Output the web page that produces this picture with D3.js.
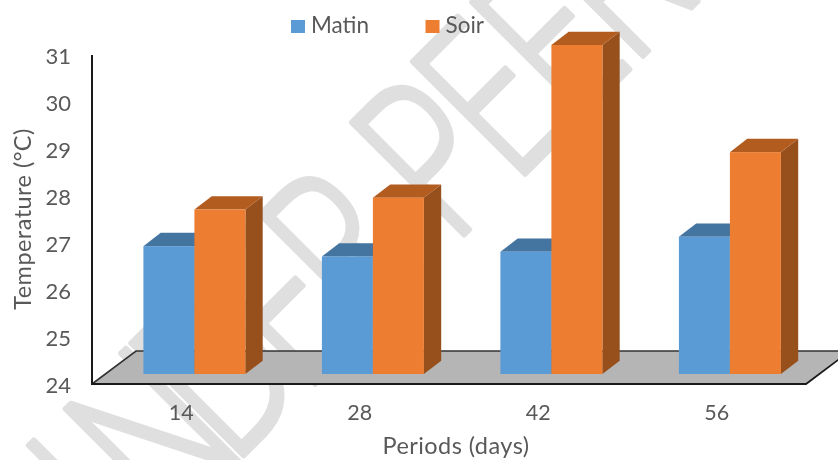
<!DOCTYPE html>
<html><head><meta charset="utf-8">
<script src="https://cdn.jsdelivr.net/npm/d3@7"></script>
<style>html,body{margin:0;padding:0;background:#fff}svg{display:block;filter:blur(0.4px)}
text{font-family:Lato,"Open Sans",sans-serif}</style></head><body>
<svg id="c" width="838" height="460"></svg>
<script>
const categories = ["14","28","42","56"];
const seriesNames = ["Matin","Soir"];
const matin = [26.72,26.5,26.6,26.92];
const soir  = [27.5,27.75,31,28.72];
const yTicks = [24,25,26,27,28,29,30,31];
const watermarkLetters = ["U","N","D","E","R","P","E","E","R"];
const watermarkOffsets = [-391,-260,-167,-66,15,145,231,315,398];

const svg = d3.select("#c");
const ink = "#595959";
const faces = {Matin:{front:"#5B9BD5",top:"#4474A0",side:"#3A6690"},
               Soir:{front:"#ED7D31",top:"#B35C20",side:"#97501C"}};
const depth = {floorX:44,floorY:33,barX:17.3,barY:13.3,wallGap:10};

// watermark, behind the chart
const wm = svg.append("g");
wm.selectAll("text").data(watermarkLetters).join("text")
  .attr("transform",(d,i)=>`rotate(-45) translate(${watermarkOffsets[i]},494) scale(0.75,1)`)
  .attr("font-size",222).style("font-family","'Open Sans'").attr("font-weight",300)
  .attr("fill","#dfdfdf").attr("stroke","#dfdfdf").attr("stroke-width",6)
  .attr("stroke-linejoin","round")
  .text(d=>d);

const x0 = d3.scaleBand().domain(categories).range([92,806]);
const x1 = d3.scaleBand().domain(seriesNames).range([0,102]);
const y = d3.scaleLinear().domain([24,31]).range([384,55]);
const barInset = 51.4;

// floor
const p = (pts)=>d3.line()(pts)+"Z";
const yb = y(24);
svg.append("path").attr("d",p([[92,yb],[806,yb],[806+depth.floorX,yb-depth.floorY],[92+depth.floorX,yb-depth.floorY]]))
   .attr("fill","#b5b5b5");
svg.append("path").attr("d",d3.line()([[92,yb],[92+depth.floorX,yb-depth.floorY],[806+depth.floorX,yb-depth.floorY]]))
   .attr("fill","none").attr("stroke","#333").attr("stroke-width",1.6);
svg.append("path").attr("d",d3.line()([[92,yb],[806,yb],[806+depth.floorX,yb-depth.floorY]]))
   .attr("fill","none").attr("stroke","#1a1a1a").attr("stroke-width",1.8);

// bars
const values = {Matin:matin,Soir:soir};
categories.forEach((c,i)=>{
  const g = svg.append("g");
  seriesNames.forEach(s=>{
    const v = values[s][i];
    const l = x0(c)+barInset+x1(s), r = l+x1.bandwidth();
    const t = y(v)-depth.wallGap, b = yb-depth.wallGap;
    const dx=depth.barX, dy=depth.barY, f=faces[s];
    g.append("path").attr("d",p([[r,t],[r+dx,t-dy],[r+dx,b-dy],[r,b]])).attr("fill",f.side);
    g.append("path").attr("d",p([[l,t],[l+dx,t-dy],[r+dx,t-dy],[r,t]])).attr("fill",f.top);
    g.append("rect").attr("x",l).attr("y",t).attr("width",r-l).attr("height",b-t).attr("fill",f.front);
  });
});

// axes
const yAxis = d3.axisLeft(y).tickValues(yTicks).tickSize(0).tickPadding(21).tickFormat(d3.format("d"));
const ya = svg.append("g").attr("transform","translate(92,1.5)").call(yAxis);
ya.select(".domain").remove();
ya.selectAll("text").attr("font-size",22).attr("fill",ink).style("font-family","Lato");
svg.append("line").attr("x1",92).attr("x2",92).attr("y1",y(31)).attr("y2",yb+1)
   .attr("stroke","#1a1a1a").attr("stroke-width",2);

const xAxis = d3.axisBottom(x0).tickSize(0).tickPadding(21);
const xa = svg.append("g").attr("transform",`translate(0,${yb})`).call(xAxis);
xa.select(".domain").remove();
xa.selectAll("text").attr("font-size",21.5).attr("fill",ink).style("font-family","Lato");

svg.append("text").attr("x",456).attr("y",454).attr("text-anchor","middle")
   .attr("font-size",23.5).style("letter-spacing","0.45px").attr("fill",ink).text("Periods (days)");
svg.append("text").attr("transform","translate(31,219) rotate(-90)").attr("text-anchor","middle")
   .attr("font-size",23.5).style("letter-spacing","0.45px").attr("fill",ink).text("Temperature (°C)");

// legend
const legendX = {Matin:291,Soir:425.5};
seriesNames.forEach(s=>{
  svg.append("rect").attr("x",legendX[s]).attr("y",20).attr("width",14).attr("height",13).attr("fill",faces[s].front);
  svg.append("text").attr("x",legendX[s]+20).attr("y",33).attr("font-size",22.5).attr("fill",ink).text(s);
});
</script></body></html>
